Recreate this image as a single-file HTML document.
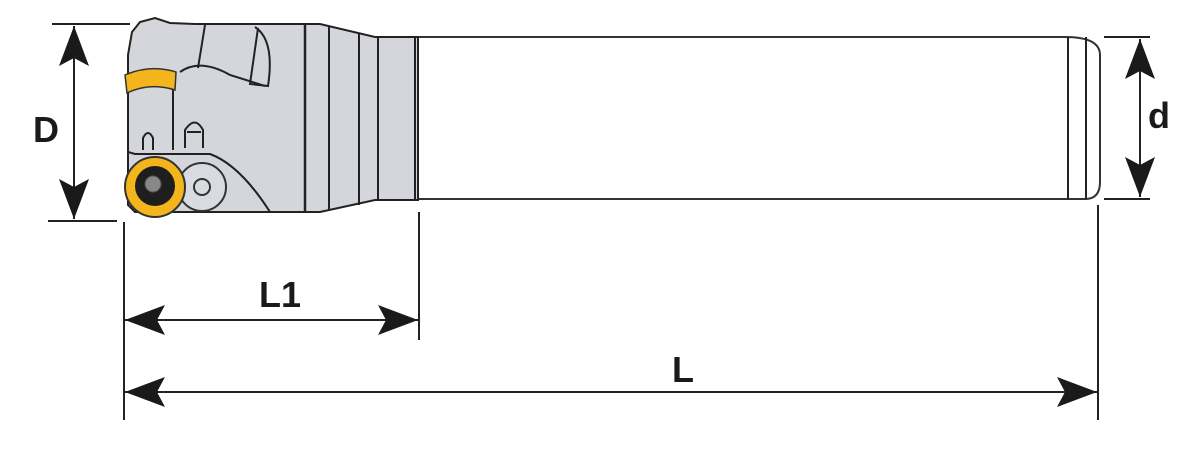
<!DOCTYPE html>
<html><head><meta charset="utf-8"><style>
html,body{margin:0;padding:0;background:#fff;width:1198px;height:450px;overflow:hidden}
</style></head><body>
<svg width="1198" height="450" viewBox="0 0 1198 450" xmlns="http://www.w3.org/2000/svg">
<defs>
<marker id="ah" viewBox="0 0 40 30" refX="40" refY="15" markerWidth="40" markerHeight="30" markerUnits="userSpaceOnUse" orient="auto-start-reverse">
<path d="M0,0 L40,15 L0,30 L8,15 Z" fill="#1a1a1a"/>
</marker>
</defs>
<g stroke="#222" stroke-width="2" fill="none">
<!-- shank -->
<path d="M418,37 H1065 Q1100,37 1100,55 V182 Q1100,199 1085,199 H418" fill="#ffffff" stroke="#333"/>
<line x1="1068" y1="37" x2="1068" y2="199"/>
<line x1="1086" y1="37" x2="1086" y2="199"/>
<!-- collar -->
<path d="M305,24 H320 L375,37 H418 V200 H375 L320,212 H305 Z" fill="#d4d6dc"/>
<line x1="329" y1="26" x2="329" y2="211"/>
<line x1="359" y1="34" x2="359" y2="205"/>
<line x1="378" y1="37" x2="378" y2="199"/>
<line x1="415" y1="37" x2="415" y2="200"/>
<!-- head -->
<path d="M305,24 H195 L170,23 L155,18 L140,22 L132,32 L128,55 L128,205 L135,212 H305 Z" fill="#d4d6dc"/>
<line x1="305" y1="24" x2="305" y2="212" stroke-width="2.5"/>
<path d="M205,25 L198,68 M255,27 Q275,40 268,86 L250,84 L258,28" />
<path d="M180,72 Q200,58 230,75 L265,86"/>
<path d="M173,85 V150"/>
<path d="M128,152 L135,154 H210 Q240,165 270,212" />
<path d="M143,150 V138 Q148,128 153,138 V150"/>
<path d="M185,148 V130 Q195,115 203,130 V148"/>
<path d="M187,132 H201"/>
</g>
<!-- yellow top insert -->
<path d="M125,75 Q150,64 176,72 L175,90 Q150,82 127,93 Z" fill="#f3b51b" stroke="#333" stroke-width="1.5"/>
<!-- screw disc -->
<circle cx="202" cy="187" r="24" fill="#d9dbe0" stroke="#333" stroke-width="2"/>
<circle cx="202" cy="187" r="8" fill="none" stroke="#333" stroke-width="2"/>
<!-- round insert -->
<circle cx="155" cy="187" r="30" fill="#f3b51b" stroke="#333" stroke-width="2"/>
<circle cx="155" cy="186" r="20" fill="#1e1e1e"/>
<circle cx="153" cy="184" r="8" fill="#888" stroke="#555"/>
<!-- dimension lines -->
<g stroke="#222" stroke-width="2">
<line x1="52" y1="24" x2="130" y2="24"/>
<line x1="48" y1="221" x2="117" y2="221"/>
<line x1="1104" y1="37" x2="1150" y2="37"/>
<line x1="1104" y1="199" x2="1150" y2="199"/>
<line x1="124" y1="222" x2="124" y2="420"/>
<line x1="419" y1="212" x2="419" y2="340"/>
<line x1="1098" y1="205" x2="1098" y2="420"/>
<line x1="74" y1="26" x2="74" y2="219" marker-start="url(#ah)" marker-end="url(#ah)"/>
<line x1="1140" y1="39" x2="1140" y2="197" marker-start="url(#ah)" marker-end="url(#ah)"/>
<line x1="125" y1="320" x2="418" y2="320" marker-start="url(#ah)" marker-end="url(#ah)"/>
<line x1="125" y1="392" x2="1097" y2="392" marker-start="url(#ah)" marker-end="url(#ah)"/>
</g>
<g font-family="'Liberation Sans','DejaVu Sans',sans-serif" font-size="36" font-weight="bold" fill="#1a1a1a">
<text x="33" y="142">D</text>
<text x="1148" y="128">d</text>
<text x="259" y="307">L1</text>
<text x="672" y="382">L</text>
</g>
</svg>
</body></html>
